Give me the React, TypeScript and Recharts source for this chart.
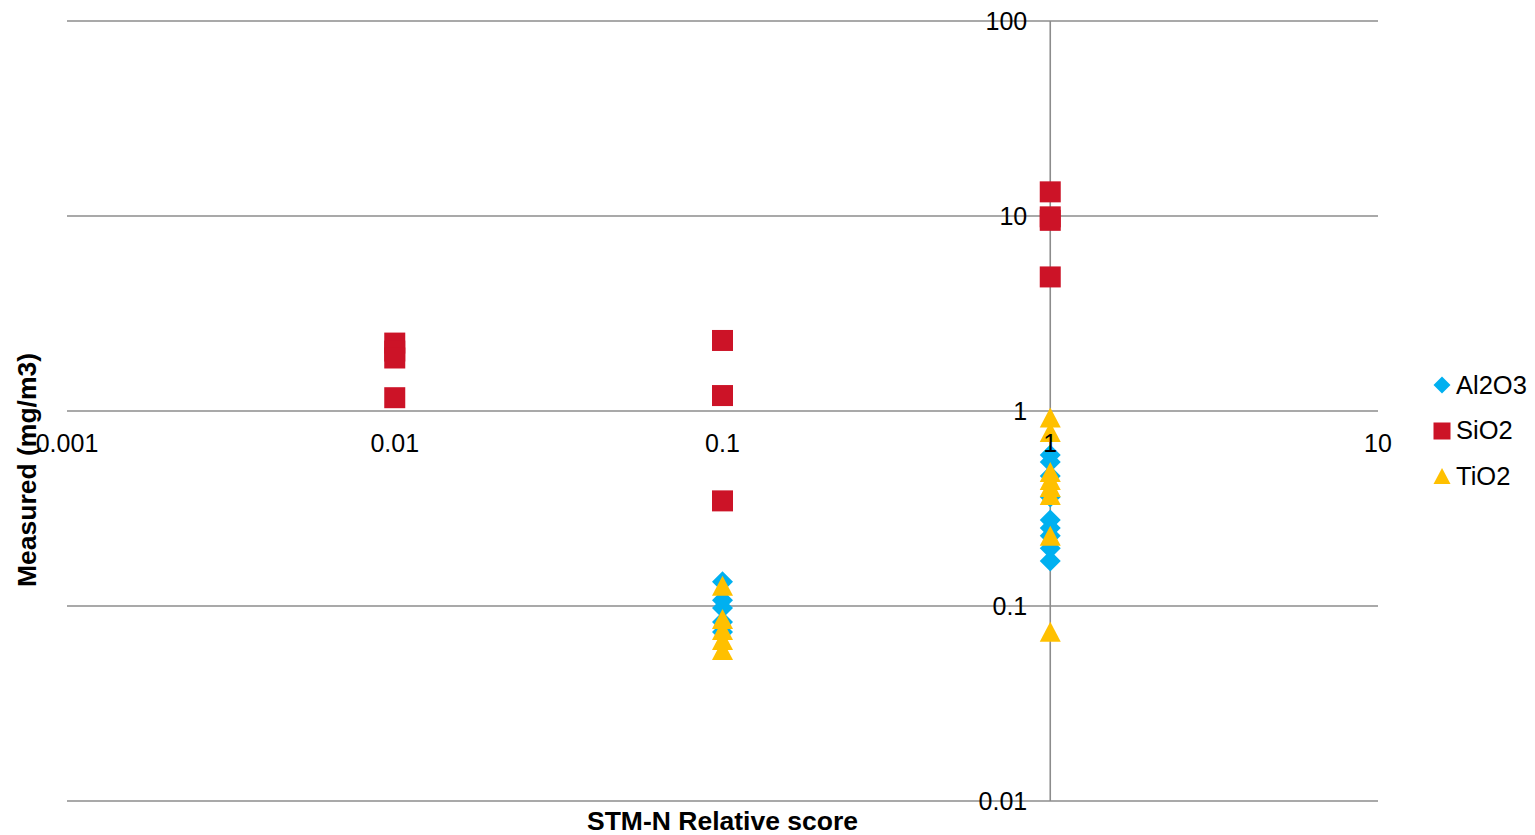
import React from "react";
import {
  ScatterChart,
  Scatter,
  XAxis,
  YAxis,
  CartesianGrid,
  ReferenceLine,
  Legend,
} from "recharts";

// ---- data -------------------------------------------------------------
// STM-N relative score (x) and measured concentration in mg/m3 (y)
const al2o3Score = [1, 1, 1, 1, 1, 1, 1, 1, 1, 0.1, 0.1, 0.1, 0.1, 0.1];
const al2o3Measured = [
  0.595, 0.548, 0.464, 0.362, 0.276, 0.251, 0.229, 0.198, 0.17, 0.133, 0.107,
  0.0977, 0.0828, 0.0736,
];

const sio2Score = [1, 1, 1, 1, 0.1, 0.1, 0.1, 0.01, 0.01, 0.01, 0.01];
const sio2Measured = [13.3, 9.9, 9.5, 4.87, 2.3, 1.2, 0.346, 2.23, 2.03, 1.87, 1.17];

const tio2Score = [1, 1, 1, 1, 1, 1, 1, 1, 0.1, 0.1, 0.1, 0.1, 0.1];
const tio2Measured = [
  0.926, 0.78, 0.487, 0.443, 0.408, 0.371, 0.229, 0.0738, 0.127, 0.0858,
  0.0753, 0.067, 0.0595,
];

const xTicks = [0.001, 0.01, 0.1, 1, 10];
const yTicks = [0.01, 0.1, 1, 10, 100];

const seriesNames = ["Al2O3", "SiO2", "TiO2"];
const seriesColors = ["#00B0F0", "#CC1327", "#FFC000"];

const zip = (xs: number[], ys: number[]) => xs.map((x, i) => ({ x, y: ys[i] }));
const al2o3Data = zip(al2o3Score, al2o3Measured);
const sio2Data = zip(sio2Score, sio2Measured);
const tio2Data = zip(tio2Score, tio2Measured);

// ---- layout -----------------------------------------------------------
const CHART_W = 1520;
const CHART_H = 827;
const MARGIN = { top: 13, right: 150, bottom: 1, left: 0 };
const Y_AXIS_W = 59;
const X_AXIS_H = 33;
const PLOT_W = CHART_W - MARGIN.right - MARGIN.left - Y_AXIS_W;
const PLOT_H = CHART_H - MARGIN.top - MARGIN.bottom - X_AXIS_H;

const FONT = "'Liberation Sans', Arial, Helvetica, sans-serif";
const GRID = "#8C8C8C";

// axes cross at (1, 1): x=1 sits 3/4 across the log range, y=1 half way up
const X_CROSS_FRACTION = 3 / 4;
const Y_CROSS_FRACTION = 1 / 2;

const XTick = (props: any) => {
  const { x, y, payload } = props;
  return (
    <text
      x={x}
      y={y - PLOT_H * Y_CROSS_FRACTION + 32}
      dy="0.35em"
      textAnchor="middle"
      fontFamily={FONT}
      fontSize={25}
      fill="#000"
    >
      {String(payload.value)}
    </text>
  );
};

const YTick = (props: any) => {
  const { x, y, payload } = props;
  return (
    <text
      x={x + PLOT_W * X_CROSS_FRACTION - 23}
      y={y}
      dy="0.35em"
      textAnchor="end"
      fontFamily={FONT}
      fontSize={25}
      fill="#000"
    >
      {String(payload.value)}
    </text>
  );
};

// ---- marker shapes ----------------------------------------------------
const Diamond = ({ cx, cy, fill }: any) => (
  <polygon
    points={`${cx},${cy - 10.5} ${cx + 10.5},${cy} ${cx},${cy + 10.5} ${cx - 10.5},${cy}`}
    fill={fill}
  />
);
const Square = ({ cx, cy, fill }: any) => (
  <rect x={cx - 10.5} y={cy - 10.5} width={21} height={21} fill={fill} />
);
const Triangle = ({ cx, cy, fill }: any) => (
  <polygon
    points={`${cx},${cy - 10} ${cx + 10.5},${cy + 10} ${cx - 10.5},${cy + 10}`}
    fill={fill}
  />
);

const LegendIcon = ({ index, color }: { index: number; color: string }) => (
  <svg width={18} height={18} style={{ display: "block" }}>
    {index === 0 && <polygon points="9,0.5 17.5,9 9,17.5 0.5,9" fill={color} />}
    {index === 1 && <rect x={0.5} y={0.5} width={17} height={17} fill={color} />}
    {index === 2 && <polygon points="9,1 17.5,17 0.5,17" fill={color} />}
  </svg>
);

const LegendContent = () => (
  <div style={{ fontFamily: FONT, fontSize: 25.5, color: "#000" }}>
    {seriesNames.map((name, i) => (
      <div
        key={name}
        style={{ display: "flex", alignItems: "center", height: 45.5 }}
      >
        <LegendIcon index={i} color={seriesColors[i]} />
        <span style={{ marginLeft: 5, lineHeight: 1 }}>{name}</span>
      </div>
    ))}
  </div>
);

const XTitle = (props: any) => {
  const vb = props.viewBox || {};
  return (
    <text
      x={vb.x + vb.width / 2}
      y={vb.y + 28.5}
      textAnchor="middle"
      fontFamily={FONT}
      fontSize={26.5}
      fontWeight="bold"
      fill="#000"
    >
      STM-N Relative score
    </text>
  );
};

const YTitle = (props: any) => {
  const vb = props.viewBox || {};
  const cx = vb.x + 19;
  const cy = vb.y + vb.height / 2 + 59;
  return (
    <text
      x={cx}
      y={cy}
      dy="0.35em"
      textAnchor="middle"
      transform={`rotate(-90 ${cx} ${cy})`}
      fontFamily={FONT}
      fontSize={26.5}
      fontWeight="bold"
      fill="#000"
    >
      Measured (mg/m3)
    </text>
  );
};

export default function App() {
  return (
    <div style={{ width: CHART_W, height: CHART_H }}>
      <ScatterChart
        width={CHART_W}
        height={CHART_H}
        margin={MARGIN}
        style={{ overflow: "visible" }}
      >
        <CartesianGrid vertical={false} stroke={GRID} strokeWidth={1.6} />
        <XAxis
          dataKey="x"
          type="number"
          scale="log"
          domain={[0.001, 10]}
          ticks={xTicks}
          interval={0}
          allowDataOverflow
          height={X_AXIS_H}
          axisLine={false}
          tickLine={false}
          tickSize={0}
          tickMargin={0}
          tick={<XTick />}
          label={<XTitle />}
        />
        <YAxis
          dataKey="y"
          type="number"
          scale="log"
          domain={[0.01, 100]}
          ticks={yTicks}
          interval={0}
          allowDataOverflow
          width={Y_AXIS_W}
          axisLine={false}
          tickLine={false}
          tickSize={0}
          tickMargin={0}
          tick={<YTick />}
          label={<YTitle />}
        />
        <ReferenceLine x={1} stroke={GRID} strokeWidth={1.6} />
        <Legend
          layout="vertical"
          align="center"
          verticalAlign="middle"
          wrapperStyle={{ left: 1425, top: 354.5, width: 110 }}
          content={<LegendContent />}
        />
        <Scatter
          name={seriesNames[0]}
          data={al2o3Data}
          fill={seriesColors[0]}
          shape={(p: any) => <Diamond {...p} fill={seriesColors[0]} />}
          isAnimationActive={false}
        />
        <Scatter
          name={seriesNames[1]}
          data={sio2Data}
          fill={seriesColors[1]}
          shape={(p: any) => <Square {...p} fill={seriesColors[1]} />}
          isAnimationActive={false}
        />
        <Scatter
          name={seriesNames[2]}
          data={tio2Data}
          fill={seriesColors[2]}
          shape={(p: any) => <Triangle {...p} fill={seriesColors[2]} />}
          isAnimationActive={false}
        />
      </ScatterChart>
    </div>
  );
}
